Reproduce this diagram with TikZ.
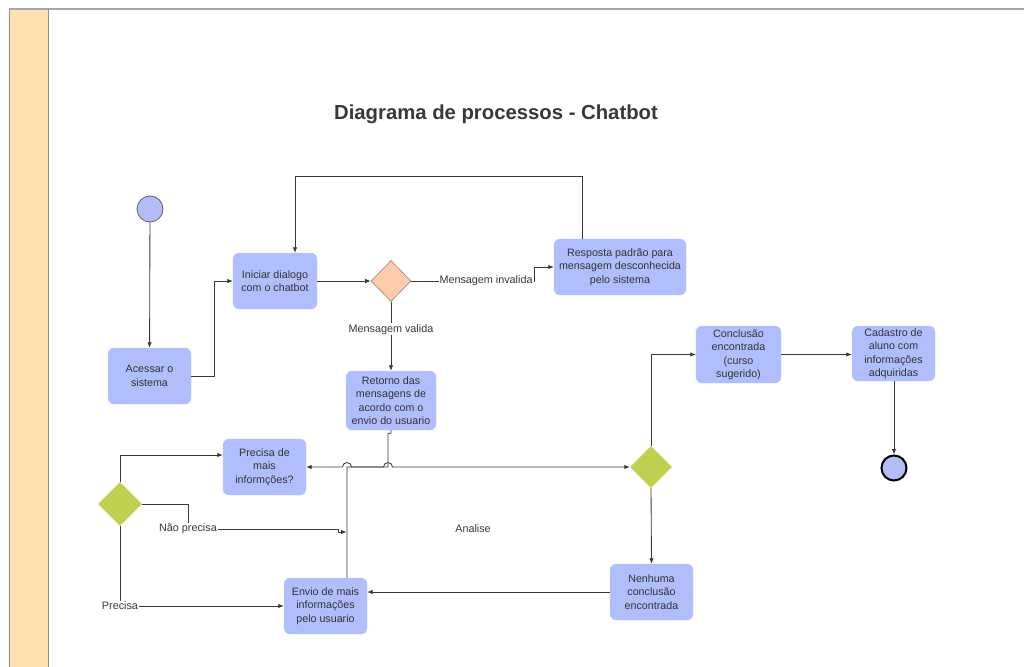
\documentclass[tikz,border=0pt]{standalone}
\usepackage{fontspec}
\setmainfont{Liberation Sans}
\usetikzlibrary{shapes.geometric,arrows.meta}
\definecolor{boxfill}{RGB}{176,190,253}
\definecolor{circfill}{RGB}{180,188,245}
\definecolor{orangefill}{RGB}{255,204,170}
\definecolor{orangeline}{RGB}{150,130,120}
\definecolor{greenfill}{RGB}{192,207,80}
\definecolor{bandfill}{RGB}{255,224,176}
\definecolor{bandline}{RGB}{150,140,130}
\definecolor{linecol}{RGB}{56,56,56}
\definecolor{txt}{RGB}{51,51,51}
\tikzset{
  proc/.style={rectangle, rounded corners=6pt, fill=boxfill, draw=boxfill!85!white, text=txt,
    align=center, inner sep=1pt, font=\fontsize{10.7}{13.5}\selectfont},
  startev/.style={circle, fill=circfill, draw=linecol!80, line width=0.8pt, minimum size=26pt, inner sep=0pt},
  endev/.style={circle, fill=circfill, draw=black, line width=2pt, minimum size=25pt, inner sep=0pt},
  gwor/.style={diamond, fill=orangefill, draw=orangeline, line width=0.6pt, minimum width=40pt, minimum height=41pt, inner sep=0pt},
  gwgr/.style={diamond, fill=greenfill, draw=none, inner sep=0pt},
  lbl/.style={fill=white, text=linecol, inner sep=1pt, font=\fontsize{10.8}{12}\selectfont},
  conn/.style={draw=linecol, line width=0.85pt, -{Latex[length=5.5pt,width=4.5pt]}},
  plain/.style={draw=linecol, line width=0.85pt}
}
\begin{document}
\begin{tikzpicture}[x=1pt,y=-1pt]
\useasboundingbox (0,0) rectangle (1024,666);
% frame
\draw[bandline, line width=1.2pt, fill=bandfill] (9.5,9.5) rectangle (48.5,670);
\draw[gray!70, line width=1.5pt] (9,9) -- (1024,9);
% title
\node[font=\bfseries\fontsize{20.3}{23}\selectfont, text=linecol] (title) at (496,114) {Diagrama de processos - Chatbot};
\node[text=linecol, font=\fontsize{10.8}{12}\selectfont] (analise) at (473,529) {Analise};
% nodes
\node[startev] (start) at (150,209) {};
\node[proc, minimum width=83pt, minimum height=56pt] (acessar) at (149.5,376) {Acessar o\\sistema};
\node[proc, minimum width=84pt, minimum height=56pt] (iniciar) at (275,281) {Iniciar dialogo\\com o chatbot};
\node[gwor] (d1) at (391,281) {};
\node[proc, minimum width=132pt, minimum height=56pt] (resposta) at (620,267) {Resposta padrão para\\mensagem desconhecida\\pelo sistema};
\node[proc, minimum width=90pt, minimum height=59pt] (retorno) at (391,400.5) {Retorno das\\mensagens de\\acordo com o\\envio do usuario};
\node[proc, minimum width=83pt, minimum height=56pt] (precisa) at (264.5,467) {Precisa de\\mais\\informções?};
\node[gwgr, minimum width=44pt, minimum height=44pt] (dl) at (120,504) {};
\node[proc, minimum width=83pt, minimum height=56pt] (envio) at (325.5,606) {Envio de mais\\informações\\pelo usuario};
\node[gwgr, minimum width=42pt, minimum height=42pt] (dr) at (651,467) {};
\node[proc, minimum width=85pt, minimum height=57pt] (conclusao) at (738.5,354.5) {Conclusão\\encontrada\\(curso\\sugerido)};
\node[proc, minimum width=83pt, minimum height=55pt] (cadastro) at (893.5,353.5) {Cadastro de\\aluno com\\informações\\adquiridas};
\node[endev] (end) at (894,468) {};
\node[proc, minimum width=83pt, minimum height=56pt] (nenhuma) at (651.5,592) {Nenhuma\\conclusão\\encontrada};
% connectors
\draw[conn] (start) -- (acessar);
\draw[conn] (acessar.east) -- ++(23,0) |- (iniciar.west);
\draw[conn] (iniciar) -- (d1);
\draw[conn] (d1.east) -- (534,281) node[lbl, anchor=east]{Mensagem invalida} |- (resposta.west);
\draw[conn] ([xshift=-38pt]resposta.north) -- ++(0,-62) -| ([xshift=20pt]iniciar.north);
\draw[conn] (d1.south) -- node[lbl, pos=0.4]{Mensagem valida} (retorno.north);
\draw[conn] (retorno.south) -- ++(0,3) -- ++(-3,0) -- (388,467) -- (351.5,467)
   arc[start angle=0, end angle=180, radius=4.5pt] -- (precisa.east);
\draw[conn] ([xshift=21.5pt]envio.north) -- (347,467) -- (383.5,467)
   arc[start angle=180, end angle=0, radius=4.5pt] -- (dr.west);
\draw[conn] (dl.north) |- ([yshift=12pt]precisa.west);
\coordinate (vjoin) at (346.5,532);
\draw[conn] (dl.east) -- (188,504) -- (188,529) node[lbl]{Não precisa} -- (338,529) -- (338,532) -- (vjoin);
\draw[conn] (dl.south) -- (120,606) node[lbl]{Precisa} -- (envio.west);
\draw[conn] (dr.north) |- (conclusao.west);
\draw[conn] (dr.south) -- (nenhuma.north);
\draw[conn] (nenhuma.west) -- (envio.east |- nenhuma.west);
\draw[conn] (conclusao.east) -- (cadastro.west |- conclusao.east);
\draw[conn] (cadastro.south -| end.north) -- (end.north);
\end{tikzpicture}
\end{document}
